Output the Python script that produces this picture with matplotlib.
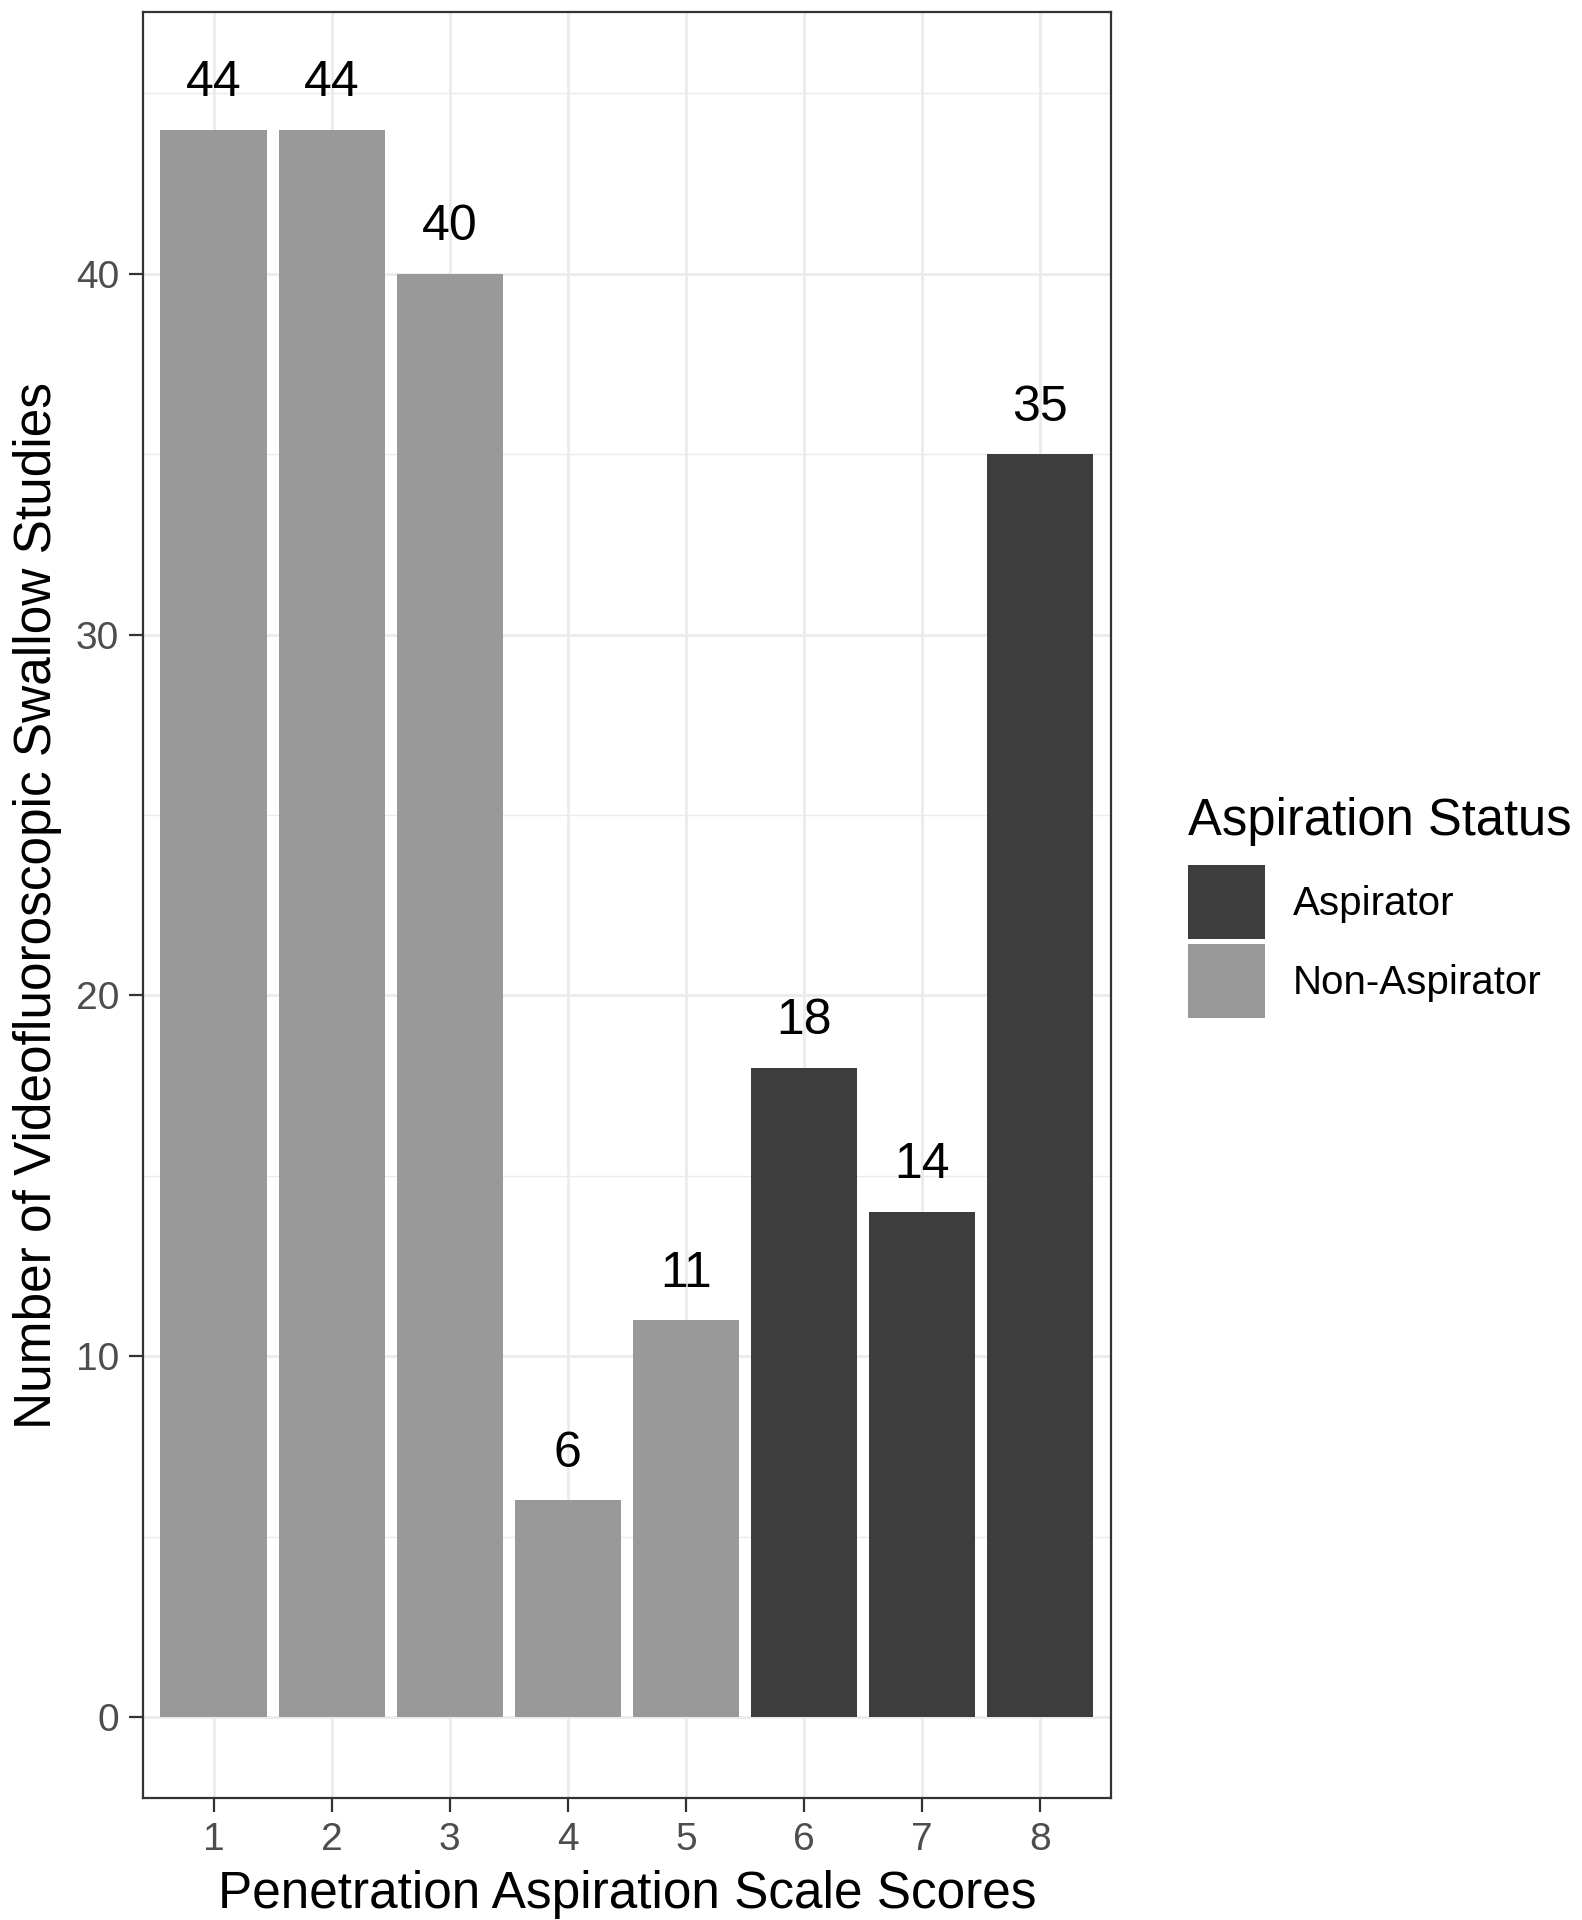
import matplotlib
matplotlib.use("Agg")
import matplotlib.pyplot as plt
from matplotlib.ticker import MultipleLocator

plt.rcParams['font.family'] = ['Liberation Sans', 'DejaVu Sans']

# Data
scores = [1, 2, 3, 4, 5, 6, 7, 8]
counts = [44, 44, 40, 6, 11, 18, 14, 35]
status = ["Non-Aspirator", "Non-Aspirator", "Non-Aspirator", "Non-Aspirator",
          "Non-Aspirator", "Aspirator", "Aspirator", "Aspirator"]
legend_order = ["Aspirator", "Non-Aspirator"]
colors = {"Aspirator": "#3d3d3d", "Non-Aspirator": "#999999"}

fig = plt.figure(figsize=(15.82, 19.2), dpi=100)
ax = fig.add_axes([0.0902, 0.0635, 0.6121, 0.9301])

handles = {}
for grp in legend_order:
    xs = [s for s, st in zip(scores, status) if st == grp]
    ys = [c for c, st in zip(counts, status) if st == grp]
    handles[grp] = ax.bar(xs, ys, width=0.9, color=colors[grp], label=grp, zorder=2)

for s, c in zip(scores, counts):
    ax.text(s, c + 0.93, str(c), ha='center', va='baseline', fontsize=36, color='black', zorder=3)

ax.set_xlim(0.4, 8.6)
ax.set_ylim(-2.25, 47.25)
ax.set_xticks(scores)
ax.set_xticklabels([str(s) for s in scores])
ax.yaxis.set_major_locator(MultipleLocator(10))
ax.yaxis.set_minor_locator(MultipleLocator(5))
ax.grid(True, which='major', color='#ebebeb', linewidth=2.0, zorder=0)
ax.grid(True, which='minor', axis='y', color='#ebebeb', linewidth=1.0, zorder=0)
ax.set_axisbelow(True)

for sp in ax.spines.values():
    sp.set_color('#333333')
    sp.set_linewidth(1.6)

ax.tick_params(axis='both', which='major', length=10, width=1.6, color='#333333',
               labelsize=28, labelcolor='#4d4d4d', pad=7)
ax.tick_params(axis='y', which='minor', length=0)

ax.set_xlabel("Penetration Aspiration Scale Scores", fontsize=37, labelpad=9)
ax.set_ylabel("Number of Videofluoroscopic Swallow Studies", fontsize=37, labelpad=10)

leg = fig.legend(handles=[handles[g] for g in legend_order], labels=legend_order,
                 title="Aspiration Status", loc='upper left',
                 bbox_to_anchor=(1188 / 1582, 1 - 797 / 1920),
                 frameon=False, fontsize=29, title_fontsize=36.5,
                 handlelength=1.9, handleheight=2.45, handletextpad=0.7,
                 labelspacing=0.12, borderpad=0, borderaxespad=0, alignment='left')
try:
    leg._legend_box.sep = 14
except Exception:
    pass

fig.savefig("out.png", dpi=100)
